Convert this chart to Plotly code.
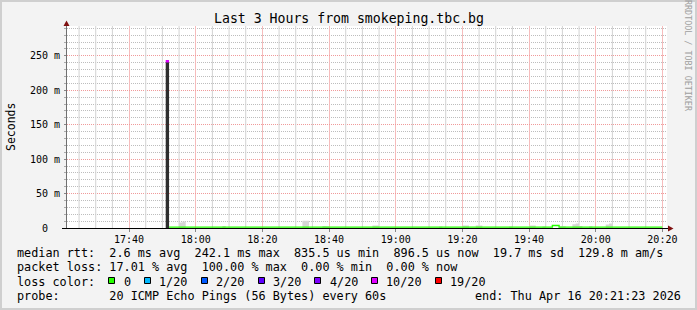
import pandas as pd
import plotly.graph_objects as go

# ---------------- data ----------------
title_text = "Last 3 Hours from smokeping.tbc.bg"
y_title = "Seconds"
watermark = "RRDTOOL / TOBI OETIKER"

t_start = "2026-04-16 17:21:23"
t_end = "2026-04-16 20:21:23"
x_tick0 = "2026-04-16 17:40:00"
grid_first = "2026-04-16 17:25"
grid_last = "2026-04-16 20:20"

y_tick_values = [0, 0.05, 0.10, 0.15, 0.20, 0.25]
y_tick_labels = ["0  ", "50 m", "100 m", "150 m", "200 m", "250 m"]
y_top = 0.2933

# interval with 10/20 packet loss
loss_start = ["17:51"]
loss_smoke_top = [0.2410]
loss_median = [0.2421]

# light smoke (max ping, ms) per one-minute step, by step start
smoke_start = ["17:55", "17:56", "18:08", "18:32", "18:33", "18:38", "18:39",
               "18:53", "18:54", "19:13", "19:20", "19:21", "19:24", "19:25",
               "19:34", "19:40", "19:41", "19:44", "19:49", "19:50", "19:53",
               "19:54", "19:55", "19:58", "20:03", "20:04"]
smoke_top_ms = [8.0, 9.5, 3.0, 10.5, 10.5, 3.0, 2.5,
                3.5, 3.5, 2.0, 3.5, 3.5, 3.5, 3.5,
                2.0, 3.5, 3.5, 2.0, 2.5, 2.5, 5.5,
                6.5, 3.0, 2.5, 5.0, 6.5]

# median rtt with 0 loss (step series, ms)
median_times = ["17:52", "19:47", "19:49", "20:20"]
median_ms = [1.2, 3.6, 1.2, 1.2]

# legend text
stat_line_1 = "median rtt:  2.6 ms avg  242.1 ms max  835.5 us min  896.5 us now  19.7 ms sd  129.8 m am/s"
stat_line_2 = "packet loss: 17.01 % avg  100.00 % max  0.00 % min  0.00 % now"
loss_title = "loss color:"
probe_text = "probe:       20 ICMP Echo Pings (56 Bytes) every 60s"
end_text = "end: Thu Apr 16 20:21:23 2026"
loss_labels = ["0", "1/20", "2/20", "3/20", "4/20", "10/20", "19/20"]
loss_colors = ["#26ff00", "#00b8ff", "#0059ff", "#5e00ff", "#7e00ff", "#dd00ff", "#ff0000"]

# ---------------- layout helpers ----------------
W, H = 697, 310
PL, PR, PT, PB = 67, 667, 26, 228
MONO = "DejaVu Sans Mono"
NB = "\u00a0"


def xp(px):
    return (px - PL) / (PR - PL)


def yp(py):
    return (PB - py) / (PB - PT)


def nb(s):
    return s.replace(" ", NB)


day = "2026-04-16 "
minute = pd.Timedelta(seconds=60)


def step_polys(starts, values):
    xs, ys = [], []
    for s, v in zip(starts, values):
        e = s + minute
        xs += [s, s, e, e, s, None]
        ys += [0, v, v, 0, 0, None]
    return xs, ys


fig = go.Figure()

# 5-minute vertical grid (between the 20-minute major lines)
grid_times = [t for t in pd.date_range(grid_first, grid_last, freq="5min") if t.minute % 20 != 0]
gx, gy = [], []
for t in grid_times:
    gx += [t, t, None]
    gy += [0, y_top, None]
fig.add_trace(go.Scatter(x=gx, y=gy, mode="lines", line=dict(color="#d2d2d2", width=1),
                         hoverinfo="skip"))

# light smoke
s_start = pd.to_datetime([day + s for s in smoke_start])
sx, sy = step_polys(s_start, [v / 1000 for v in smoke_top_ms])
fig.add_trace(go.Scatter(x=sx, y=sy, mode="lines", fill="toself", fillcolor="#d6d6d6",
                         line=dict(width=0, color="#d6d6d6"), hoverinfo="skip"))

# heavy-loss smoke
l_start = pd.to_datetime([day + s for s in loss_start])
bx, by = step_polys(l_start, loss_smoke_top)
fig.add_trace(go.Scatter(x=bx, y=by, mode="lines", fill="toself", fillcolor="#2e2e2e",
                         line=dict(width=0, color="#2e2e2e"), hoverinfo="skip"))

# median with 10/20 loss
lx, ly = [], []
for s, v in zip(l_start, loss_median):
    lx += [s, s + minute, None]
    ly += [v, v, None]
fig.add_trace(go.Scatter(x=lx, y=ly, mode="lines", line=dict(color=loss_colors[5], width=2.5),
                         hoverinfo="skip"))

# median with 0 loss
fig.add_trace(go.Scatter(x=pd.to_datetime([day + t for t in median_times]),
                         y=[v / 1000 for v in median_ms], mode="lines", line_shape="hv",
                         line=dict(color=loss_colors[0], width=1.4), hoverinfo="skip"))

major_grid = "#f09a9a"
minor_grid = "#bdbdbd"

fig.update_layout(
    width=W, height=H,
    margin=dict(l=PL, r=W - PR, t=PT, b=H - PB, pad=0),
    paper_bgcolor="#f3f3f3", plot_bgcolor="#ffffff",
    showlegend=False,
    font=dict(family=MONO, color="#000000"),
    xaxis=dict(type="date", range=[t_start, t_end], tick0=x_tick0, dtick=1200000,
               tickformat="%H:%M", showgrid=True, gridcolor="#f6bcbc", griddash="solid",
               gridwidth=1, zeroline=False, showline=False, ticks="outside", ticklen=3,
               tickcolor="#888888", tickfont=dict(family=MONO, size=10, color="#000000"),
               ticklabelstandoff=-1, fixedrange=True),
    yaxis=dict(range=[0, y_top], tickmode="array", tickvals=y_tick_values,
               ticktext=[nb(t) for t in y_tick_labels],
               showgrid=True, gridcolor=major_grid, griddash="1px,1px", gridwidth=1,
               zeroline=False, showline=False, ticks="outside", ticklen=2, tickcolor="#888888",
               tickfont=dict(family=MONO, size=10, color="#000000"),
               ticklabelstandoff=2,
               minor=dict(tickmode="linear", tick0=0, dtick=0.01, showgrid=True,
                          gridcolor=minor_grid, gridwidth=1, griddash="1px,1px", ticks="outside",
                          ticklen=2, tickcolor="#aaaaaa"),
               fixedrange=True),
)

shapes = []
# outer frame
shapes.append(dict(type="rect", xref="paper", yref="paper", x0=xp(1), x1=xp(696), y0=yp(1), y1=yp(309),
                   line=dict(color="#cfcfcf", width=2), layer="below"))
# axis lines
shapes.append(dict(type="line", xref="paper", yref="paper", x0=xp(66.5), x1=xp(66.5), y0=yp(228), y1=yp(24),
                   line=dict(color="#707070", width=1), layer="above"))
shapes.append(dict(type="line", xref="paper", yref="paper", x0=xp(62), x1=xp(669), y0=yp(228.5), y1=yp(228.5),
                   line=dict(color="#000000", width=1), layer="above"))
# arrows
arrow = "#7f1010"
shapes.append(dict(type="path", xref="paper", yref="paper",
                   path=f"M {xp(63.5)},{yp(26)} L {xp(69.5)},{yp(26)} L {xp(66.5)},{yp(20.5)} Z",
                   fillcolor=arrow, line=dict(color=arrow, width=0), layer="above"))
shapes.append(dict(type="path", xref="paper", yref="paper",
                   path=f"M {xp(668)},{yp(225.5)} L {xp(668)},{yp(231.5)} L {xp(673.5)},{yp(228.5)} Z",
                   fillcolor=arrow, line=dict(color=arrow, width=0), layer="above"))

annotations = []
annotations.append(dict(text=title_text, xref="paper", yref="paper", x=xp(348.5), y=yp(18.5),
                        xanchor="center", yanchor="middle", showarrow=False,
                        font=dict(family=MONO, size=13.2, color="#000000")))
annotations.append(dict(text=y_title, xref="paper", yref="paper", x=xp(11), y=yp(127),
                        xanchor="center", yanchor="middle", showarrow=False, textangle=-90,
                        font=dict(family=MONO, size=11.5, color="#000000")))
annotations.append(dict(text=nb(watermark), xref="paper", yref="paper", x=xp(688), y=yp(56),
                        xanchor="center", yanchor="middle", showarrow=False, textangle=90,
                        font=dict(family=MONO, size=8.4, color="#a0a0a0")))

LF = 11.8
CW = LF * 0.6021
X0 = 16
row_y = [253.0, 267.4, 281.8, 296.2]


def legend_text(text, px, cy, anchor="left"):
    annotations.append(dict(text=nb(text), xref="paper", yref="paper", x=xp(px), y=yp(cy),
                            xanchor=anchor, yanchor="middle", showarrow=False, borderpad=0,
                            font=dict(family=MONO, size=LF, color="#000000")))


legend_text(stat_line_1, X0, row_y[0])
legend_text(stat_line_2, X0, row_y[1])
legend_text(loss_title, X0, row_y[2])
legend_text(probe_text, X0, row_y[3])
legend_text(end_text, 682, row_y[3], anchor="right")

col = len(loss_title) + 2
for lab, colr in zip(loss_labels, loss_colors):
    left = round(X0 + col * CW)
    shapes.append(dict(type="rect", xref="paper", yref="paper",
                       x0=xp(left + 0.5), x1=xp(left + 6.5), y0=yp(277.5), y1=yp(283.5),
                       fillcolor=colr, line=dict(color="#000000", width=1), layer="above"))
    legend_text(lab, X0 + (col + 2) * CW, row_y[2])
    col += 2 + len(lab) + 2

fig.update_layout(shapes=shapes, annotations=annotations)
fig.write_html("out.html")
